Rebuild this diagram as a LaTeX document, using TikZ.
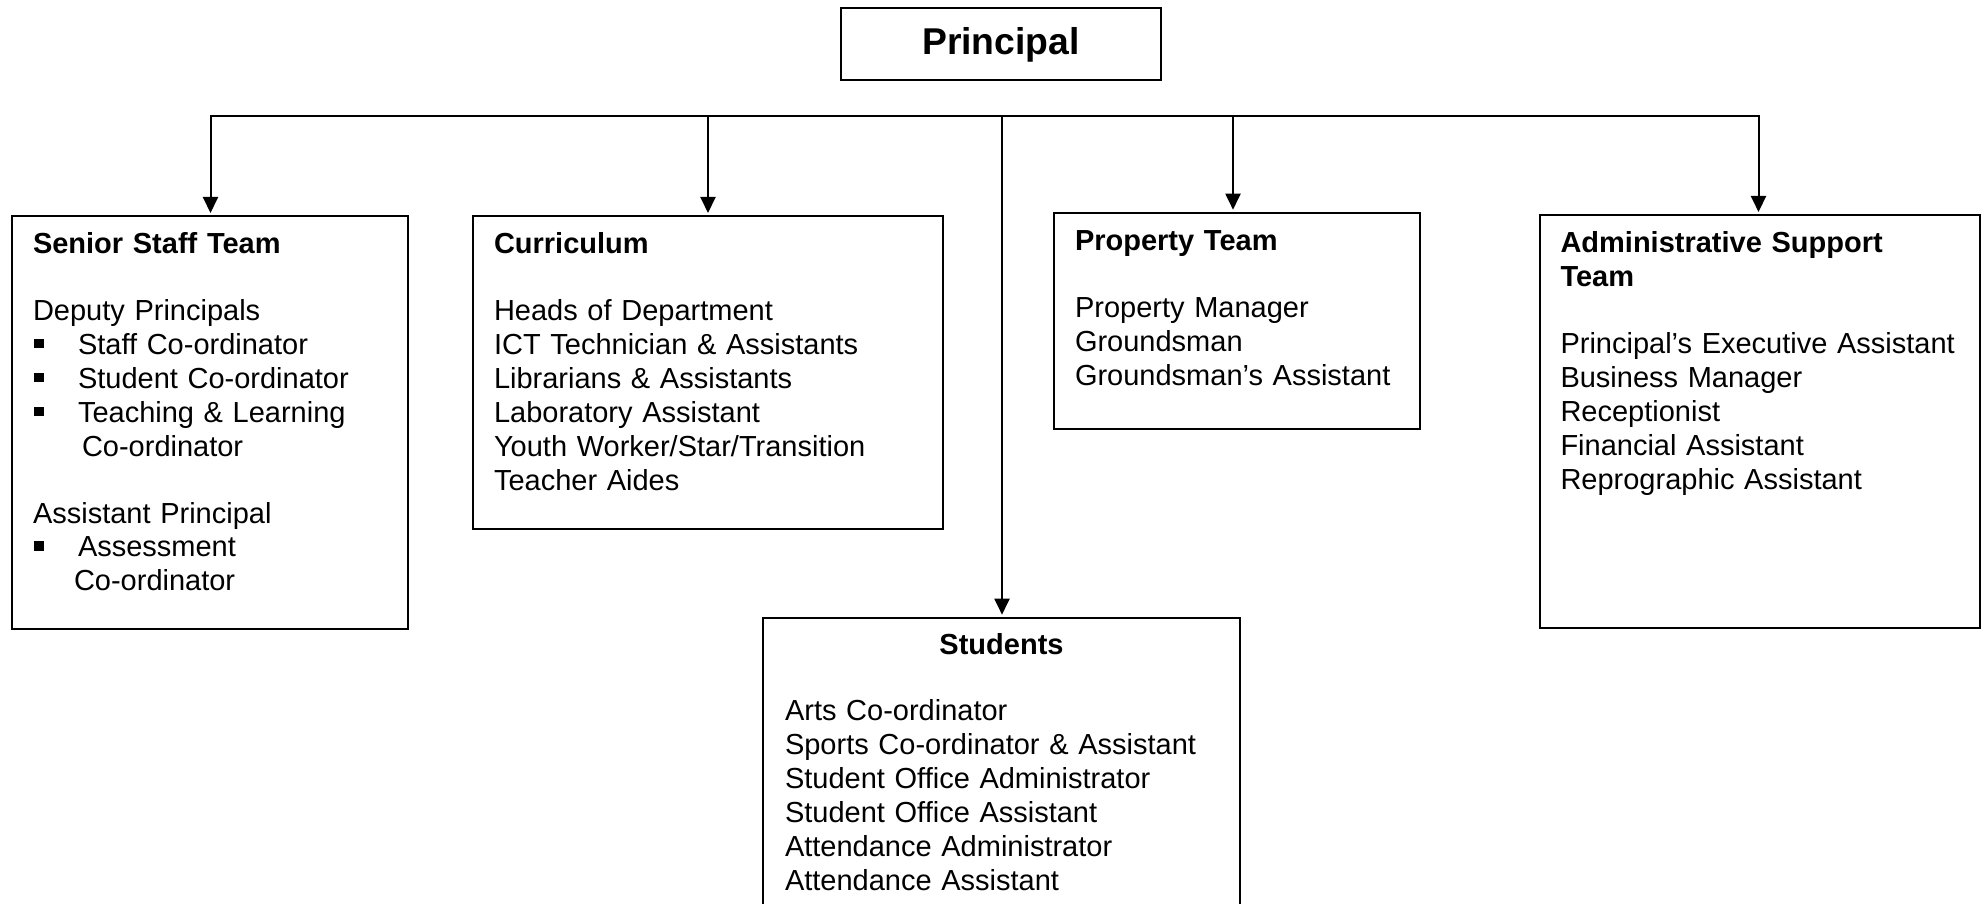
\documentclass[tikz,border=0pt]{standalone}
\usepackage{fontspec}
\setmainfont{Liberation Sans}
\usetikzlibrary{arrows.meta}
% square bullet followed by the item indent
\newcommand{\sqitem}{\hspace*{1pt}\rlap{\rule[6pt]{9.5pt}{9.5pt}}\hspace*{44pt}}
\begin{document}
\begin{tikzpicture}[x=1pt,y=-1pt,
  orgbox/.style={draw, line width=2pt, anchor=north west, inner ysep=0pt,
    align=left, font=\fontsize{29}{33.9}\selectfont},
  link/.style={line width=2pt, line cap=rect},
  feed/.style={line width=2pt, -{Triangle[length=16pt,width=15pt]}, shorten >=2pt}]
\useasboundingbox (0,0) rectangle (1984,904);
\clip (0,0) rectangle (1984,904);
\fill[white] (0,0) rectangle (1984,904);

% head of school
\node[draw, line width=2pt, anchor=north, minimum width=320pt, inner sep=0pt,
  text height=47pt, text depth=25pt,
  font=\fontsize{37.3}{40}\selectfont\bfseries] (principal) at (1001,7) {Principal};

% teams
\node[orgbox, inner xsep=21pt, text width=354pt, text height=37.7pt, text depth=375.3pt]
  (senior) at (11,215)
  {\textbf{Senior Staff Team}\\[33pt]
   Deputy Principals\\
   \sqitem Staff Co-ordinator\\
   \sqitem Student Co-ordinator\\
   \sqitem Teaching \& Learning\\
   \hspace*{49pt}Co-ordinator\\[33pt]
   Assistant Principal\\
   \sqitem Assessment\\
   \hspace*{41pt}Co-ordinator};

\node[orgbox, inner xsep=21.5pt, text width=427.5pt, text height=38pt, text depth=275pt]
  (curriculum) at (471.5,215)
  {\textbf{Curriculum}\\[33pt]
   Heads of Department\\
   ICT Technician \& Assistants\\
   Librarians \& Assistants\\
   Laboratory Assistant\\
   Youth Worker/Star/Transition\\
   Teacher Aides};

\node[orgbox, inner xsep=21pt, text width=324pt, text height=38.3pt, text depth=178.3pt]
  (property) at (1053,211.7)
  {\textbf{Property Team}\\[33pt]
   Property Manager\\
   Groundsman\\
   Groundsman’s Assistant};

\node[orgbox, inner xsep=21pt, text width=398pt, text height=37.7pt, text depth=375.3pt]
  (admin) at (1538.5,214)
  {\textbf{Administrative Support}\\
   \textbf{Team}\\[33pt]
   Principal’s Executive Assistant\\
   Business Manager\\
   Receptionist\\
   Financial Assistant\\
   Reprographic Assistant};

\node[orgbox, inner xsep=22pt, text width=433pt, text height=36.3pt, text depth=300pt]
  (students) at (762,616.7)
  {\makebox[\linewidth][c]{\bfseries Students}\\[33pt]
   Arts Co-ordinator\\
   Sports Co-ordinator \& Assistant\\
   Student Office Administrator\\
   Student Office Assistant\\
   Attendance Administrator\\
   Attendance Assistant};

% distribution line
\coordinate (b1) at (210.5,116);
\coordinate (b2) at (708,116);
\coordinate (b3) at (1002,116);
\coordinate (b4) at (1233,116);
\coordinate (b5) at (1758.5,116);
\draw[link] (b1) -- (b5);
\draw[feed] (b1) -- (b1 |- senior.north);
\draw[feed] (b2) -- (b2 |- curriculum.north);
\draw[feed] (b3) -- (b3 |- students.north);
\draw[feed] (b4) -- (b4 |- property.north);
\draw[feed] (b5) -- (b5 |- admin.north);
\end{tikzpicture}
\end{document}
